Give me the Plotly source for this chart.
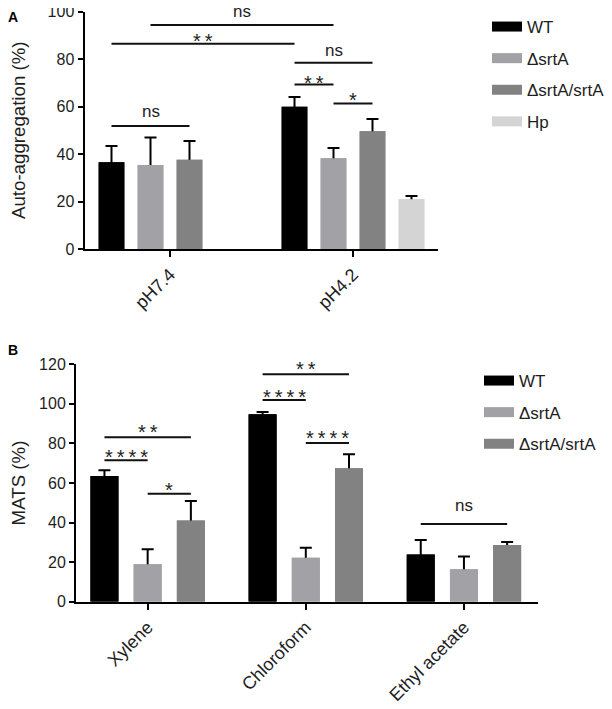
import plotly.graph_objects as go

# ---------------- data ----------------
a_categories = ["pH7.4", "pH4.2"]
a_series = ["WT", "ΔsrtA", "ΔsrtA/srtA", "Hp"]
a_wt = [36.5, 59.9]
a_wt_err = [6.9, 4.1]
a_srta = [35.4, 38.2]
a_srta_err = [11.5, 4.3]
a_comp = [37.6, 49.6]
a_comp_err = [7.9, 5.1]
a_hp = [None, 20.9]
a_hp_err = [None, 1.4]

b_categories = ["Xylene", "Chloroform", "Ethyl acetate"]
b_series = ["WT", "ΔsrtA", "ΔsrtA/srtA"]
b_wt = [63.5, 94.7, 23.8]
b_wt_err = [2.9, 1.2, 7.4]
b_srta = [18.9, 22.2, 16.4]
b_srta_err = [7.6, 5.1, 6.4]
b_comp = [41.1, 67.4, 28.7]
b_comp_err = [9.8, 7.1, 1.5]

# significance: (category, series) -> (category, series), label
a_sig_pairs = [((0, 0), (0, 2)), ((0, 0), (1, 0)), ((0, 1), (1, 1)),
               ((1, 0), (1, 2)), ((1, 0), (1, 1)), ((1, 1), (1, 2))]
a_sig_labels = ["ns", "**", "ns", "ns", "**", "*"]
b_sig_pairs = [((0, 0), (0, 2)), ((0, 0), (0, 1)), ((0, 1), (0, 2)),
               ((1, 0), (1, 2)), ((1, 0), (1, 1)), ((1, 1), (1, 2)),
               ((2, 0), (2, 2))]
b_sig_labels = ["**", "****", "*", "**", "****", "****", "ns"]

# ---------------- styling / layout ----------------
colors = ["#000000", "#a1a1a6", "#828282", "#d4d4d4"]
FONT = "Arial, Liberation Sans, sans-serif"
TXT = "#1e1e1e"
# the page body has an 8px default margin: the figure is drawn 8px in
PAGE_OFF = 8
W, H = 612 - PAGE_OFF, 709 - PAGE_OFF


def fx(px):  # reference pixel x -> paper fraction
    return (px - PAGE_OFF) / W


def fy(py):  # reference pixel y -> paper fraction
    return 1 - (py - PAGE_OFF) / H


# bracket heights (axis units) for the significance lines
a_sig_levels = [51.8, 86.4, 94.3, 78.4, 69.3, 61.3]
b_sig_levels = [83.1, 71.5, 54.6, 115.0, 102.0, 80.2, 39.3]
a_gap = [13, 8, 12, 11, 7, 9]
b_gap = [11, 9, 9, 11, 8, 11, 17]

A = dict(n=4, slot=0.2131, bar=0.1404, xref="x", yref="y",
         dom_x=[fx(84.5), fx(438.3)], dom_y=[fy(249), fy(11.5)],
         xr=[-0.4672, 1.4661], yr=[0, 100])
B = dict(n=3, slot=0.2732, bar=0.1770, xref="x2", yref="y2",
         dom_x=[fx(76), fx(537.7)], dom_y=[fy(601.7), fy(364.3)],
         xr=[-0.4531, 2.4664], yr=[0, 120])


def center(p, i):
    return (i - (p["n"] - 1) / 2) * p["slot"]


fig = go.Figure()


def add_bars(p, cats, names, vals, errs, xa, ya, legend):
    for i, (nm, v, e) in enumerate(zip(names, vals, errs)):
        off = center(p, i) - p["bar"] / 2
        common = dict(x=cats, y=v, offset=off, width=p["bar"],
                      marker=dict(color=colors[i], line=dict(width=0)),
                      xaxis=xa, yaxis=ya, showlegend=False,
                      legendgroup=legend + nm, hoverinfo="skip")
        # bar carrying the error bar
        fig.add_trace(go.Bar(name=nm, error_y=dict(type="data", array=e, symmetric=True,
                                                   color="#000000", thickness=2, width=6),
                             **common))
        # identical bar on top hides the lower half of the error bar
        fig.add_trace(go.Bar(name=nm, **common))
        # legend entry
        fig.add_trace(go.Scatter(x=[None], y=[None], mode="lines", name=nm,
                                 line=dict(color=colors[i], width=10),
                                 xaxis=xa, yaxis=ya, legend=legend,
                                 legendgroup=legend + nm))


add_bars(A, a_categories, a_series, [a_wt, a_srta, a_comp, a_hp],
         [a_wt_err, a_srta_err, a_comp_err, a_hp_err], "x", "y", "legend")
add_bars(B, b_categories, b_series, [b_wt, b_srta, b_comp],
         [b_wt_err, b_srta_err, b_comp_err], "x2", "y2", "legend2")

shapes, annos = [], []


def add_sig(p, pairs, labels, levels, gaps):
    for ((c1, s1), (c2, s2)), lab, lv, g in zip(pairs, labels, levels, gaps):
        x0 = c1 + center(p, s1)
        x1 = c2 + center(p, s2)
        shapes.append(dict(type="line", xref=p["xref"], yref=p["yref"],
                           x0=x0, x1=x1, y0=lv, y1=lv,
                           line=dict(color="#111111", width=2)))
        if "*" in lab:
            txt = "\u2009".join(lab)
            ys = g - 5.5
            size = 20
        else:
            txt = lab
            ys = g + 1.5
            size = 17
        annos.append(dict(x=(x0 + x1) / 2, y=lv, xref=p["xref"], yref=p["yref"],
                          text=txt, showarrow=False, yanchor="middle", borderpad=0,
                          yshift=ys, font=dict(family=FONT, size=size, color=TXT)))


add_sig(A, a_sig_pairs, a_sig_labels, a_sig_levels, a_gap)
add_sig(B, b_sig_pairs, b_sig_labels, b_sig_levels, b_gap)

annos.append(dict(x=fx(12.5), y=fy(8), xref="paper", yref="paper",
                  text="<b>A</b>", showarrow=False, xanchor="center", yanchor="top",
                  borderpad=0, font=dict(family=FONT, size=14, color="#000000")))
annos.append(dict(x=fx(12.5), y=fy(350), xref="paper", yref="paper",
                  text="<b>B</b>", showarrow=False, xanchor="center", yanchor="middle",
                  borderpad=0, font=dict(family=FONT, size=14, color="#000000")))

xcommon = dict(type="category", showline=True, linecolor="#000000", linewidth=2,
               ticks="outside", ticklen=6, tickwidth=2, tickcolor="#000000",
               tickangle=-45, tickfont=dict(family=FONT, size=18, color=TXT),
               showgrid=False, zeroline=False, automargin=False)
ycommon = dict(showline=True, linecolor="#000000", linewidth=2, ticks="outside",
               ticklen=5, tickwidth=2, tickcolor="#000000", dtick=20,
               tickfont=dict(family=FONT, size=16, color=TXT),
               showgrid=False, zeroline=False, automargin=False,
               ticklabeloverflow="allow")

legcommon = dict(font=dict(family=FONT, size=17, color=TXT), xanchor="left",
                 yanchor="top", itemwidth=30, tracegroupgap=6.5,
                 bgcolor="rgba(0,0,0,0)", borderwidth=0, itemclick=False)

fig.update_layout(
    width=W, height=H, margin=dict(l=0, r=0, t=0, b=0, autoexpand=False),
    paper_bgcolor="white", plot_bgcolor="white", barmode="overlay",
    font=dict(family=FONT, color=TXT),
    xaxis=dict(domain=A["dom_x"], range=A["xr"], anchor="y",
               categoryorder="array", categoryarray=a_categories, **xcommon),
    yaxis=dict(domain=A["dom_y"], range=A["yr"], anchor="x",
               title=dict(text="Auto-aggregation (%)", font=dict(family=FONT, size=18.7, color=TXT),
                          standoff=24), **ycommon),
    xaxis2=dict(domain=B["dom_x"], range=B["xr"], anchor="y2",
                categoryorder="array", categoryarray=b_categories, **xcommon),
    yaxis2=dict(domain=B["dom_y"], range=B["yr"], anchor="x2",
                title=dict(text="MATS (%)", font=dict(family=FONT, size=18.7, color=TXT),
                           standoff=12), **ycommon),
    legend=dict(x=fx(487), y=fy(9), **legcommon),
    legend2=dict(x=fx(479), y=fy(363), **legcommon),
    shapes=shapes, annotations=annos,
)

fig.write_html("out.html")
